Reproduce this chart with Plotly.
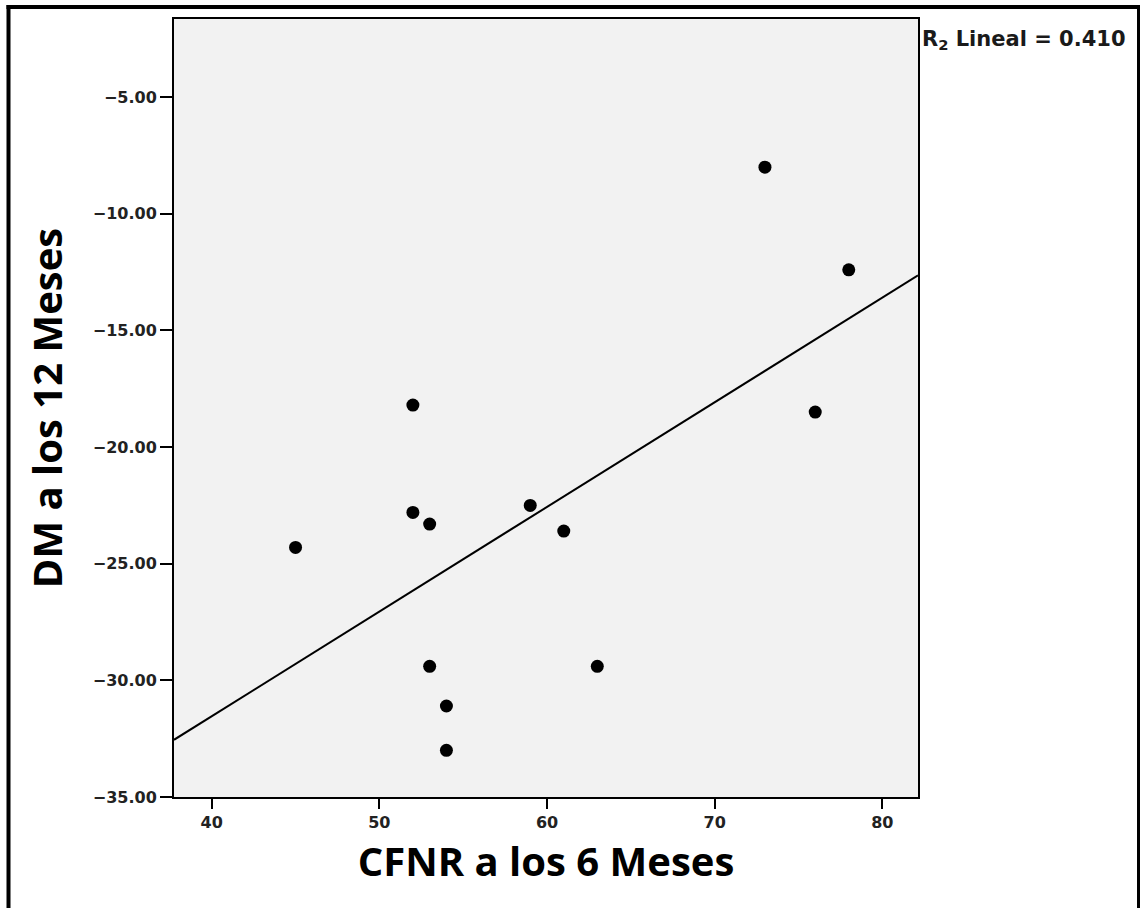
import numpy as np
import plotly.graph_objects as go

# Data
cfnr_6m = [45, 52, 52, 53, 53, 54, 54, 59, 61, 63, 73, 76, 78]
dm_12m = [-24.3, -18.2, -22.8, -23.3, -29.4, -31.1, -33.0, -22.5, -23.6, -29.4, -8.0, -18.5, -12.4]
r2_text = "R<sub>2</sub> Lineal = 0.410"
x_title = "CFNR a los 6 Meses"
y_title = "DM a los 12 Meses"
x_ticks = [40, 50, 60, 70, 80]
y_ticks = [-35, -30, -25, -20, -15, -10, -5]

X_RANGE = [37.75, 82.13]
Y_RANGE = [-35.0, -1.65]

slope, intercept = np.polyfit(cfnr_6m, dm_12m, 1)
line_x = np.array(X_RANGE)
line_y = slope * line_x + intercept

fig = go.Figure()
fig.add_trace(go.Scatter(x=line_x, y=line_y, mode="lines",
                         line=dict(color="black", width=2), showlegend=False))
fig.add_trace(go.Scatter(x=cfnr_6m, y=dm_12m, mode="markers",
                         marker=dict(color="black", size=13), showlegend=False))

tickfont = dict(family="DejaVu Sans", size=16, color="#222222", weight="bold")
fig.update_xaxes(range=X_RANGE, tickvals=x_ticks, ticktext=[str(v) for v in x_ticks],
                 showgrid=False, zeroline=False, showline=True, linecolor="black",
                 linewidth=2, mirror=True, ticks="outside", ticklen=10, tickwidth=2,
                 tickcolor="black", tickfont=tickfont,
                 title=dict(text="<b>" + x_title + "</b>",
                            font=dict(family="Open Sans", size=40, color="black"),
                            standoff=17))
fig.update_yaxes(range=Y_RANGE, tickvals=y_ticks,
                 ticktext=["\u2212%.2f" % abs(v) for v in y_ticks],
                 showgrid=False, zeroline=False, showline=True, linecolor="black",
                 linewidth=2, mirror=True, ticks="outside", ticklen=12, tickwidth=2,
                 tickcolor="black", tickfont=tickfont,
                 title=dict(text="<b>" + y_title + "</b>",
                            font=dict(family="Open Sans", size=40, color="black"),
                            standoff=18))

L, R, T, B = 174, 222, 19, 111
pw, ph = 1140 - L - R, 908 - T - B

def px(xp):
    return (xp - L) / pw

def py(yp):
    return (908 - B - yp) / ph

shapes = [
    dict(type="line", xref="paper", yref="paper", x0=px(8.5), x1=px(8.5), y0=py(5), y1=py(912),
         line=dict(color="black", width=4)),
    dict(type="line", xref="paper", yref="paper", x0=px(6.5), x1=px(1140), y0=py(7), y1=py(7),
         line=dict(color="black", width=4)),
    dict(type="line", xref="paper", yref="paper", x0=px(1138.5), x1=px(1138.5), y0=py(5), y1=py(912),
         line=dict(color="black", width=3)),
]

fig.update_layout(
    width=1140, height=908,
    margin=dict(l=L, r=R, t=T, b=B),
    paper_bgcolor="white", plot_bgcolor="#f2f2f2",
    shapes=shapes,
    annotations=[dict(text="<b>" + r2_text + "</b>", xref="paper", yref="paper",
                      x=px(920), y=py(40), xanchor="left", yanchor="middle",
                      showarrow=False,
                      font=dict(family="DejaVu Sans", size=21, color="#1a1a1a"))],
)

fig.write_html("out.html")
